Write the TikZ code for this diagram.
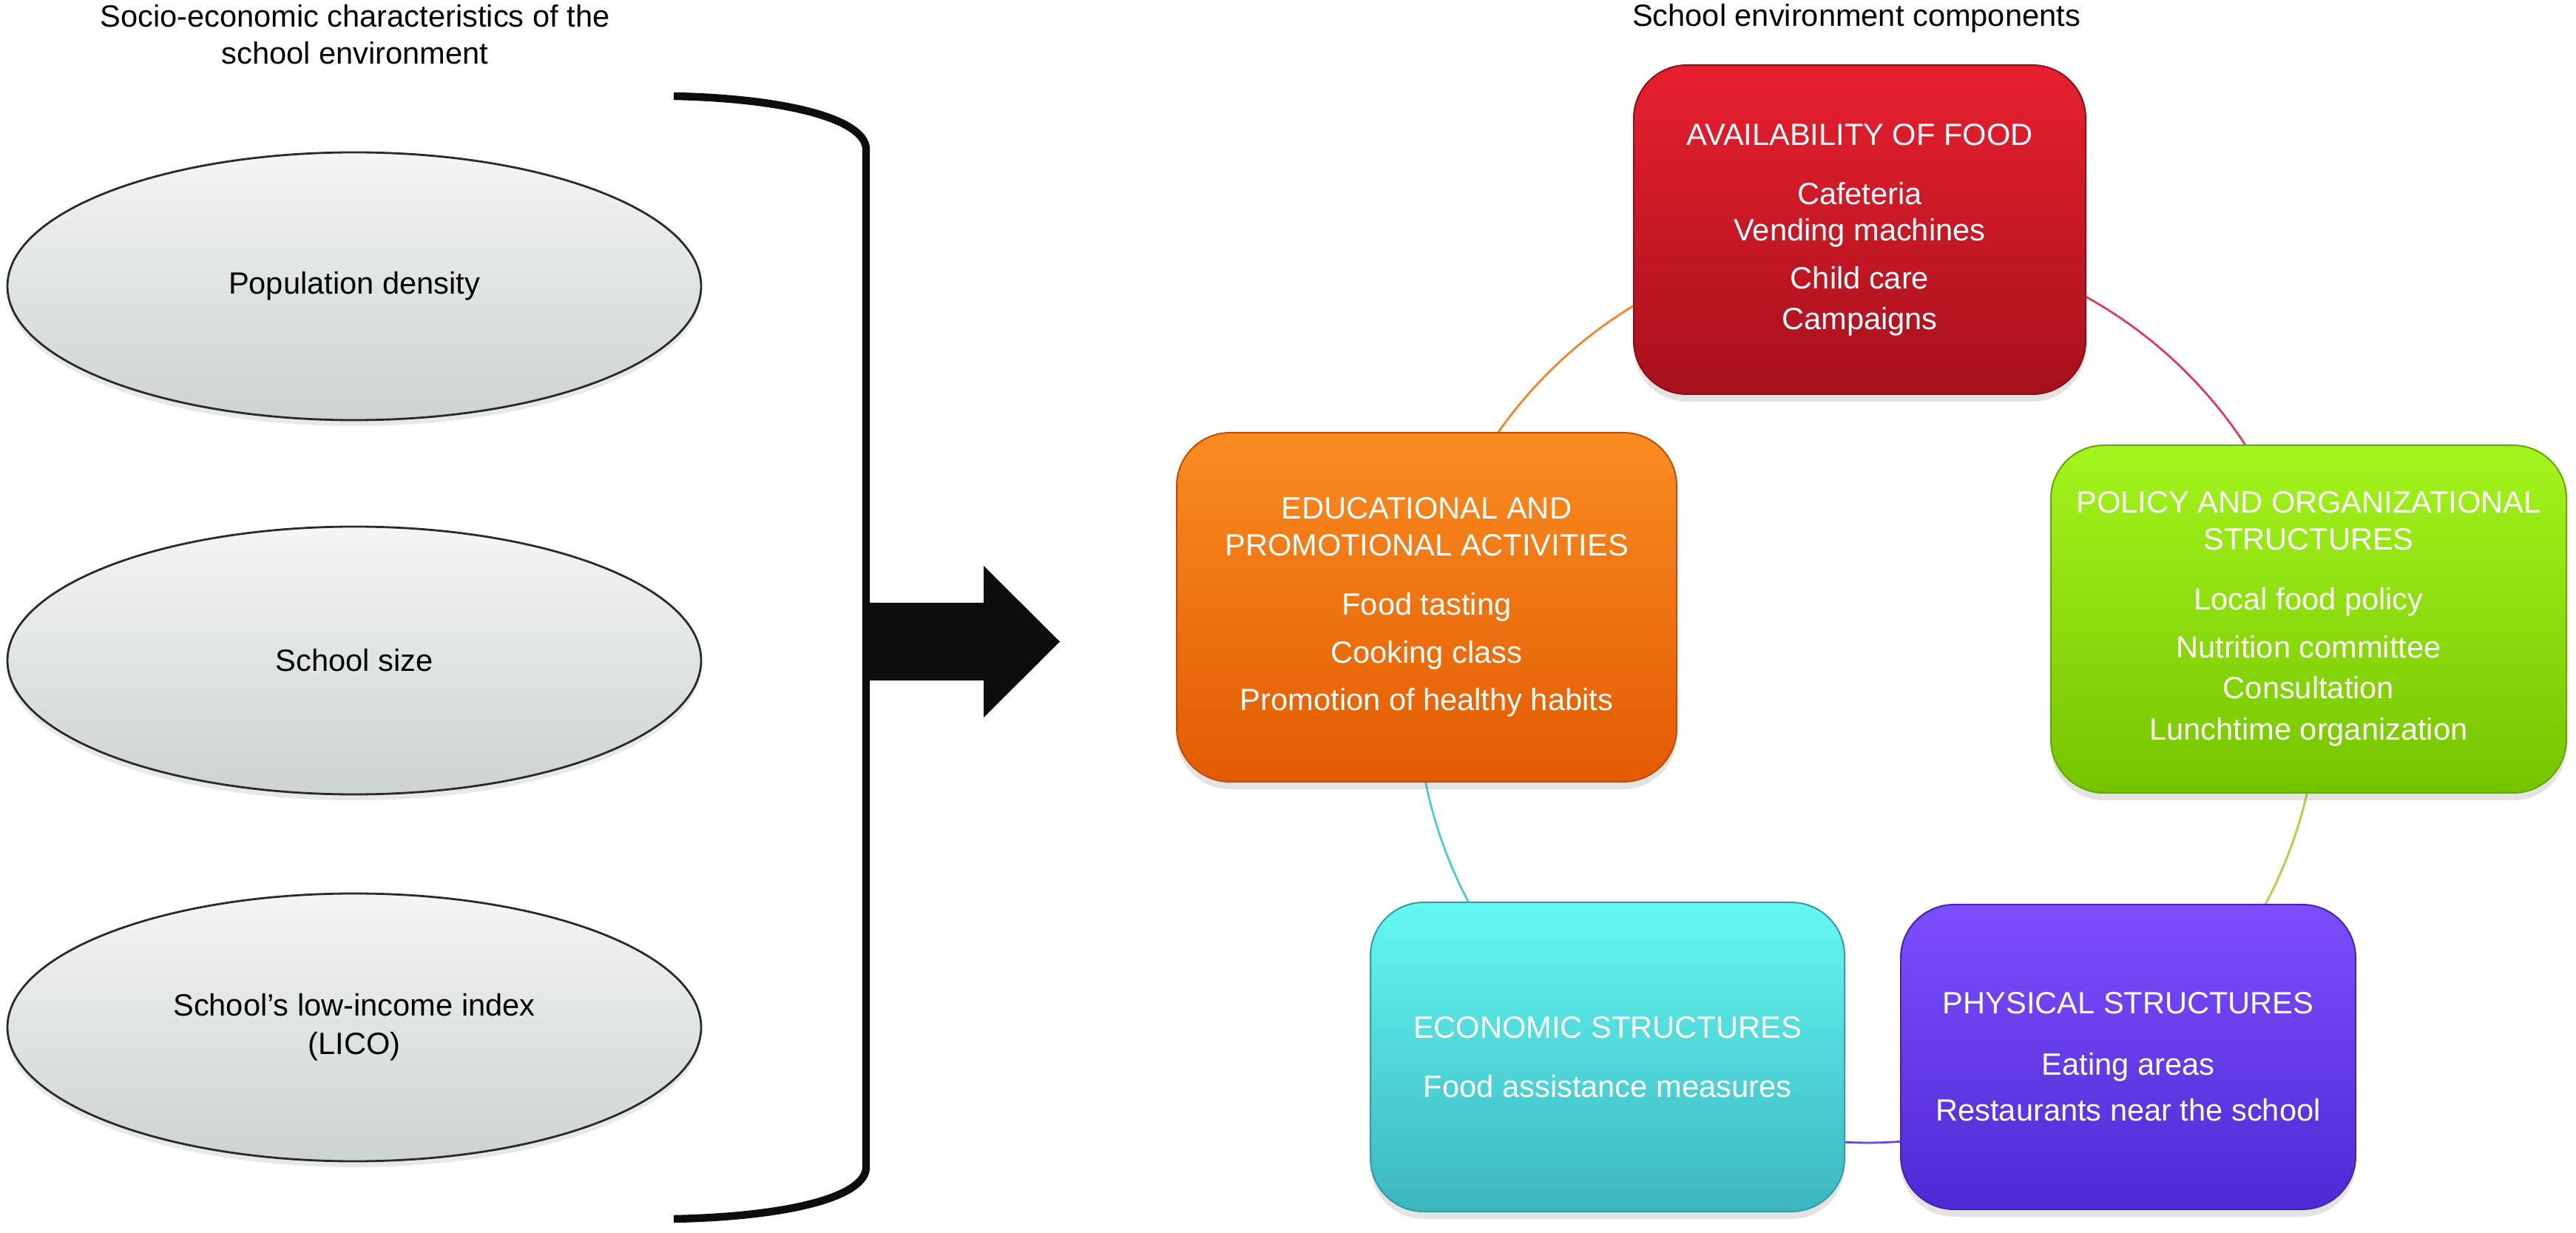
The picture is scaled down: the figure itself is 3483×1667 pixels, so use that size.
\documentclass[tikz,border=0pt]{standalone}
\usepackage{fontspec}
\setmainfont{Liberation Sans}
\usetikzlibrary{shapes.geometric,shadows}

\definecolor{ellTop}{HTML}{F4F5F5}
\definecolor{ellBot}{HTML}{CDD2D2}
\definecolor{ellLine}{HTML}{2A2A2A}
\definecolor{inkBlack}{HTML}{0D0D0D}
\definecolor{redTop}{HTML}{E8202F}
\definecolor{redBot}{HTML}{A6111C}
\definecolor{orgTop}{HTML}{FA8C22}
\definecolor{orgBot}{HTML}{E25B02}
\definecolor{grnTop}{HTML}{A4F41E}
\definecolor{grnBot}{HTML}{76C400}
\definecolor{cyaTop}{HTML}{64F8F2}
\definecolor{cyaBot}{HTML}{3CB6C0}
\definecolor{purTop}{HTML}{7D4EFC}
\definecolor{purBot}{HTML}{4D2AD4}
\definecolor{arcRed}{HTML}{D8405E}
\definecolor{arcOrg}{HTML}{F5852A}
\definecolor{arcGrn}{HTML}{A2D93A}
\definecolor{arcPur}{HTML}{6A45E2}
\definecolor{arcCya}{HTML}{4CCCD0}

\begin{document}
\begin{tikzpicture}[x=0.25pt,y=-0.25pt,
  font=\fontsize{10.4}{12.5}\selectfont,
  factor/.style={ellipse, draw=ellLine, line width=0.7pt,
    top color=ellTop, bottom color=ellBot,
    minimum width=234.5pt, minimum height=90.5pt, inner sep=0pt, align=center,
    drop shadow={opacity=0.18, shadow xshift=0pt, shadow yshift=-2pt}},
  compbox/.style={rectangle, rounded corners=18pt, line width=0.5pt,
    inner sep=0pt, align=center, text=white,
    drop shadow={opacity=0.22, shadow xshift=0pt, shadow yshift=-2.5pt}},
  cyclearc/.style={line width=0.7pt},
  titletext/.style={align=center, inner sep=0pt}
]
\useasboundingbox (0,0) rectangle (3483,1667);

% titles
\node[titletext] (ltitle) at (480,47) {Socio-economic characteristics of the\\school environment};
\node[titletext, anchor=base] (rtitle) at (2510,36) {School environment components};

% left factors
\node[factor] (pop) at (479,387) {Population density};
\node[factor] (size) at (479,893) {School size};
\node[factor] (lico) at (479,1389) {School’s low-income index\\[0.5pt](LICO)};

% bracket
\draw[inkBlack, line width=2.6pt]
  (911,130) .. controls (1060,133) and (1167,160) .. (1171,200)
  -- (1171,1580)
  .. controls (1167,1620) and (1060,1645) .. (911,1648);

% block arrow
\fill[inkBlack] (1168,815) -- (1330,815) -- (1330,765) -- (1433,867.5)
  -- (1330,970) -- (1330,920) -- (1168,920) -- cycle;

% cycle arcs
\coordinate (O) at (2525,935);
\draw[cyclearc, arcRed] ([shift={(-91:610)}]O) arc[start angle=-91, end angle=-9.3, radius=610];
\draw[cyclearc, arcGrn] ([shift={(-9.3:610)}]O) arc[start angle=-9.3, end angle=54.5, radius=610];
\draw[cyclearc, arcPur] ([shift={(54.5:610)}]O) arc[start angle=54.5, end angle=125.5, radius=610];
\draw[cyclearc, arcCya] ([shift={(125.5:610)}]O) arc[start angle=125.5, end angle=190.8, radius=610];
\draw[cyclearc, arcOrg] ([shift={(190.8:610)}]O) arc[start angle=190.8, end angle=269, radius=610];

% component boxes
\node[compbox, minimum width=152.75pt, minimum height=111.25pt,
  top color=redTop, bottom color=redBot, draw=redBot!85!black] (food) at (2514.5,310.5)
  {AVAILABILITY OF FOOD\\[7.5pt]Cafeteria\\[-0.25pt]Vending machines\\[3.75pt]Child care\\[1.25pt]Campaigns};

\node[compbox, minimum width=169pt, minimum height=118pt,
  top color=orgTop, bottom color=orgBot, draw=orgBot!85!black] (edu) at (1929,821)
  {EDUCATIONAL AND\\PROMOTIONAL ACTIVITIES\\[7.5pt]Food tasting\\[3.75pt]Cooking class\\[3.5pt]Promotion of healthy habits};

\node[compbox, minimum width=174.25pt, minimum height=117.5pt,
  top color=grnTop, bottom color=grnBot, draw=grnBot!85!black] (policy) at (3121.5,837)
  {POLICY AND ORGANIZATIONAL\\STRUCTURES\\[7.75pt]Local food policy\\[3.75pt]Nutrition committee\\[1.25pt]Consultation\\[1.5pt]Lunchtime organization};

\node[compbox, minimum width=160.25pt, minimum height=104.5pt,
  top color=cyaTop, bottom color=cyaBot, draw=cyaBot!85!black] (econ) at (2173.5,1429)
  {ECONOMIC STRUCTURES\\[7.5pt]Food assistance measures};

\node[compbox, minimum width=153.75pt, minimum height=103pt,
  top color=purTop, bottom color=purBot, draw=purBot!85!black] (phys) at (2877.5,1429)
  {PHYSICAL STRUCTURES\\[8.25pt]Eating areas\\[3pt]Restaurants near the school};
\end{tikzpicture}
\end{document}
